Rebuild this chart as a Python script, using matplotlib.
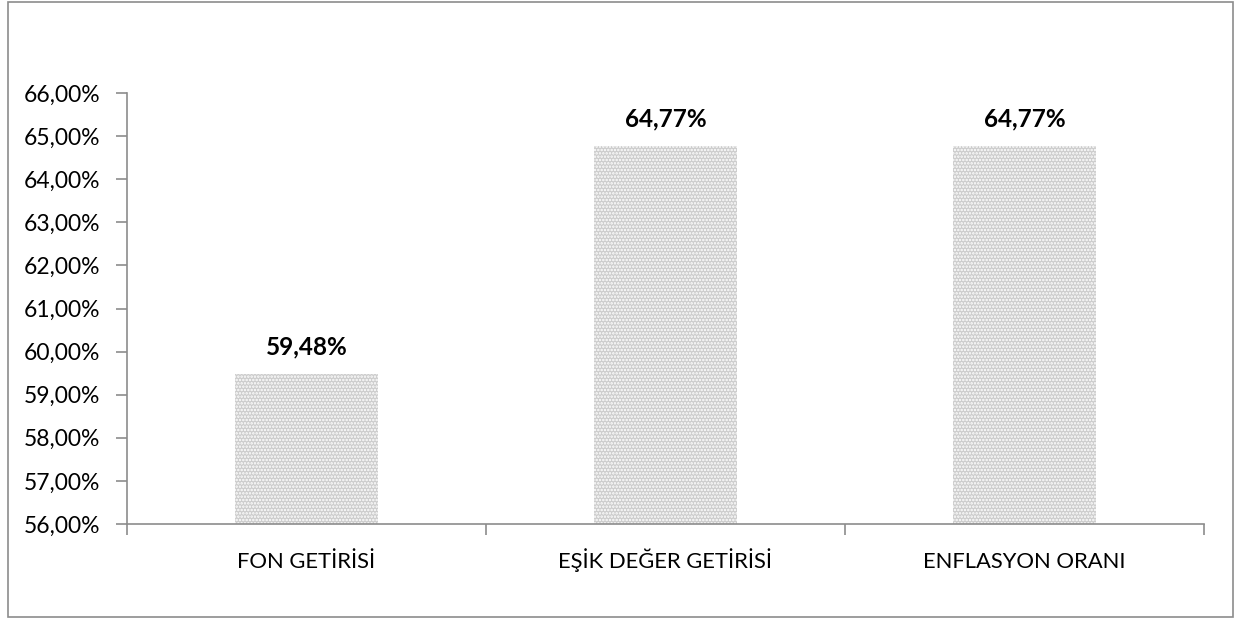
import matplotlib
matplotlib.use("Agg")
import matplotlib.pyplot as plt
from matplotlib.patches import Rectangle
from matplotlib.ticker import FixedLocator, FuncFormatter

categories = ["FON GETİRİSİ", "EŞİK DEĞER GETİRİSİ", "ENFLASYON ORANI"]
values = [59.48, 64.77, 64.77]
value_labels = ["59,48%", "64,77%", "64,77%"]
y_ticks = [56, 57, 58, 59, 60, 61, 62, 63, 64, 65, 66]

plt.rcParams['font.family'] = ['Lato', 'DejaVu Sans']
plt.rcParams['hatch.color'] = 'white'
plt.rcParams['hatch.linewidth'] = 1.2

W, H = 1239, 619
fig = plt.figure(figsize=(W / 100, H / 100), dpi=100)
fig.patch.set_facecolor('white')
fig.add_artist(Rectangle((8 / W, 1 - 617 / H), (1233 - 8) / W, (617 - 2) / H,
                         transform=fig.transFigure, fill=False,
                         edgecolor='#8c8c8c', linewidth=1.2))

ax = fig.add_axes([127 / W, 1 - 524 / H, (1204 - 127) / W, (524 - 93) / H])
x = list(range(len(categories)))
ax.bar(x, [v - 56 for v in values], bottom=56, width=0.4,
       color='#cccccc', edgecolor='white', linewidth=0, hatch='.....')

for xi, v, lab in zip(x, values, value_labels):
    ax.annotate(lab, (xi, v), xytext=(0, 14), textcoords='offset points',
                ha='center', va='baseline', fontsize=17.5, fontweight='bold')

for xi, cat in zip(x, categories):
    ax.annotate(cat, (xi, 0), xycoords=('data', 'axes fraction'),
                xytext=(0, -44), textcoords='offset pixels',
                ha='center', va='baseline', fontsize=15.8)

ax.set_xlim(-0.5, len(categories) - 0.5)
ax.set_ylim(56, 66)
ax.yaxis.set_major_locator(FixedLocator(y_ticks))
ax.yaxis.set_major_formatter(FuncFormatter(lambda v, p: f"{v:.2f}%".replace('.', ',')))
ax.set_xticks([])
ax.set_xticks([i - 0.5 for i in range(len(categories) + 1)], minor=True)
ax.tick_params(axis='x', which='minor', length=8, width=1.2, color='#8c8c8c')
ax.tick_params(axis='y', length=8, width=1.2, color='#8c8c8c', labelsize=16.5, pad=11)

for s in ['top', 'right']:
    ax.spines[s].set_visible(False)
for s in ['left', 'bottom']:
    ax.spines[s].set_color('#8c8c8c')
    ax.spines[s].set_linewidth(1.2)

fig.savefig('out.png', dpi=100, facecolor='white')
